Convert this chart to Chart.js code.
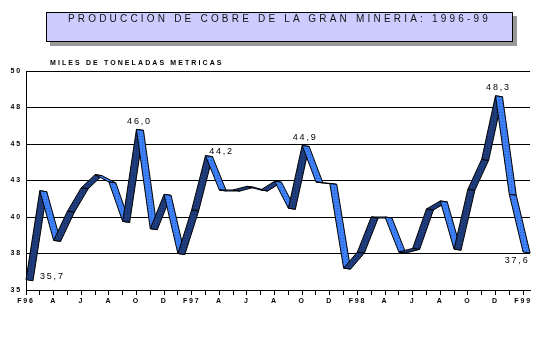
<!DOCTYPE html>
<html>
<head>
<meta charset="utf-8">
<script src="https://cdn.jsdelivr.net/npm/chart.js@4"></script>
<style>
  body { margin: 0; background: #fff; }
  #wrap { position: relative; width: 543px; height: 338px; }
  #titulo {
    position: absolute; left: 46px; top: 12px; width: 467px; height: 30px;
    box-sizing: border-box; background: #ccccff; border: 1px solid #000;
    box-shadow: 4px 4px 0 #999; text-align: center; line-height: 28px;
    font: 10px Arial, "Liberation Sans", sans-serif; letter-spacing: 3.2px; color: #111;
  }
  #unidad {
    position: absolute; left: 50px; top: 59px;
    font: bold 7px Arial, "Liberation Sans", sans-serif; letter-spacing: 2.1px; color: #000;
  }
</style>
</head>
<body>
<div id="wrap">
  <canvas id="cobre" width="543" height="338"></canvas>
  <div id="titulo">PRODUCCION DE COBRE DE LA GRAN MINERIA: 1996-99</div>
  <div id="unidad">MILES DE TONELADAS METRICAS</div>
</div>
<script>
const meses = ['F96','M','A','M','J','J','A','S','O','N','D','E',
               'F97','M','A','M','J','J','A','S','O','N','D','E',
               'F98','M','A','M','J','J','A','S','O','N','D','E','F99'];
const produccion = [35.7, 41.8, 38.4, 40.4, 42.0, 42.9, 42.4, 39.7, 46.0, 39.2,
                    41.55, 37.5, 40.5, 44.2, 41.85, 41.85, 42.1, 41.85, 42.45, 40.6,
                    44.9, 42.4, 42.3, 36.5, 37.6, 40.0, 40.0, 37.6, 37.85, 40.55,
                    41.1, 37.8, 41.9, 43.95, 48.3, 41.55, 37.6];
const etiquetados = [0, 8, 13, 20, 34, 36];
const yTicks = [35, 37.5, 40, 42.5, 45, 47.5, 50];

// patron punteado para la cinta 3D
function patron(base, punto) {
  const c = document.createElement('canvas');
  c.width = 3; c.height = 3;
  const g = c.getContext('2d');
  g.fillStyle = base; g.fillRect(0, 0, 3, 3);
  g.fillStyle = punto; g.fillRect(1, 1, 1, 1);
  return g.createPattern(c, 'repeat');
}

const espaciado = {
  id: 'espaciado',
  beforeLayout(chart) { chart.ctx.letterSpacing = '1.8px'; },
  beforeDraw(chart) { chart.ctx.letterSpacing = '1.8px'; }
};

const cinta = {
  id: 'cinta',
  afterDatasetsDraw(chart) {
    const ctx = chart.ctx;
    const pts = chart.getDatasetMeta(0).data;
    const D = 7;
    const oscuro = patron('#1f3d7d', '#142a5c');
    const claro = patron('#3d80f7', '#2a5ec4');
    ctx.save();
    ctx.lineWidth = 1;
    ctx.strokeStyle = '#000';
    for (let i = 0; i < pts.length - 1; i++) {
      const p = pts[i], q = pts[i + 1];
      ctx.beginPath();
      ctx.moveTo(p.x, p.y);
      ctx.lineTo(q.x, q.y);
      ctx.lineTo(q.x + D, q.y + 1);
      ctx.lineTo(p.x + D, p.y + 1);
      ctx.closePath();
      ctx.fillStyle = q.y < p.y ? oscuro : claro;
      ctx.fill();
      ctx.stroke();
    }
    // valores destacados
    ctx.fillStyle = '#000';
    ctx.font = '9px Arial, "Liberation Sans", sans-serif';
    ctx.letterSpacing = '1.8px';
    ctx.textBaseline = 'middle';
    etiquetados.forEach(i => {
      const p = pts[i];
      const txt = produccion[i].toFixed(1).replace('.', ',');
      let x = p.x, y = p.y - 8;
      ctx.textAlign = 'center';
      if (i === 0) { ctx.textAlign = 'left'; x = p.x + 14; y = p.y - 3; }
      else if (i === pts.length - 1) { x = p.x - 6; y = p.y + 8; }
      else if (i === 13) { x = p.x + 16; y = p.y - 4; }
      else { x = p.x + 3; }
      ctx.fillText(txt, x, y);
    });
    ctx.restore();
  }
};

new Chart(document.getElementById('cobre'), {
  type: 'line',
  data: {
    datasets: [{
      data: produccion.map((v, i) => ({ x: i, y: v })),
      borderColor: 'transparent',
      borderWidth: 0,
      pointRadius: 0
    }]
  },
  options: {
    responsive: false,
    animation: false,
    layout: { padding: { top: 71, right: 13, left: 0, bottom: 0 } },
    plugins: { legend: { display: false }, tooltip: { enabled: false } },
    scales: {
      x: {
        type: 'linear',
        min: 0,
        max: 36.5,
        afterFit(s) { s.height = 48; },
        ticks: {
          stepSize: 1,
          includeBounds: false,
          autoSkip: false,
          maxRotation: 0,
          padding: 2,
          color: '#000',
          font: { family: 'Arial', size: 7, weight: 'bold' },
          callback: v => (v % 2 === 0 ? meses[v] : '')
        },
        grid: { drawOnChartArea: false, tickLength: 5, color: '#000' },
        border: { color: '#000' }
      },
      y: {
        min: 35,
        max: 50,
        afterFit(s) { s.width = 26; },
        afterBuildTicks(s) { s.ticks = yTicks.map(v => ({ value: v })); },
        ticks: {
          padding: 4,
          color: '#000',
          font: { family: 'Arial', size: 7, weight: 'bold' },
          callback: v => String(Math.round(v))
        },
        grid: { color: '#000', drawTicks: false },
        border: { color: '#000' }
      }
    }
  },
  plugins: [espaciado, cinta]
});
</script>
</body>
</html>
